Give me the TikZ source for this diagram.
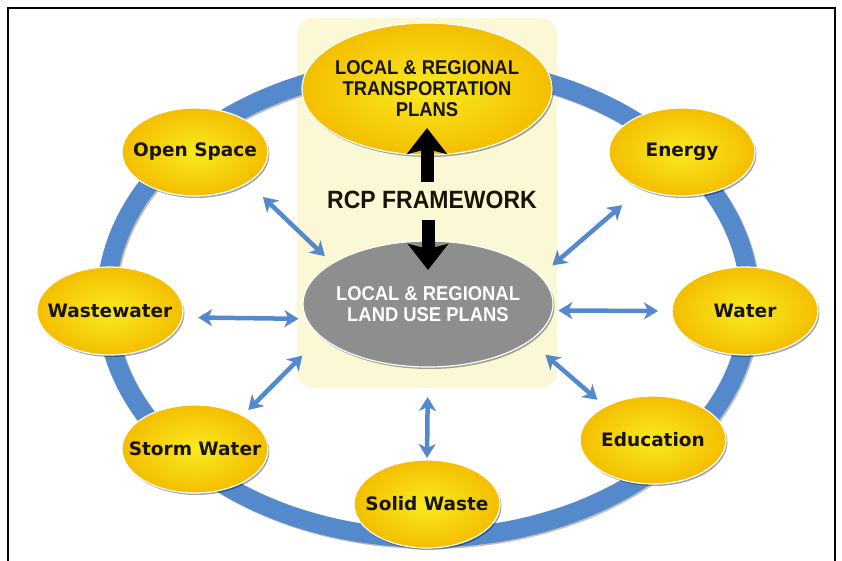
\documentclass[tikz,border=0pt]{standalone}
\usepackage{fontspec}
\setmainfont{Liberation Sans}
\newfontfamily\condfont[FakeStretch=0.92]{Liberation Sans}
\newfontfamily\bubblefont{DejaVu Sans}
\usetikzlibrary{shapes.geometric,arrows.meta,shadows}

\definecolor{ringblue}{RGB}{84,138,204}
\definecolor{cream}{RGB}{251,248,214}
\definecolor{goldrim}{RGB}{244,190,0}
\definecolor{goldmid}{RGB}{248,234,32}
\definecolor{hubgray}{RGB}{142,142,142}
\definecolor{ink}{RGB}{25,20,10}

\begin{document}
\begin{tikzpicture}[x=1pt, y=-1pt,
    gold/.style={inner color=goldmid, outer color=goldrim},
    shade/.style={drop shadow={shadow xshift=1.5pt, shadow yshift=-2pt, opacity=0.35, fill=black}},
    bubble/.style={ellipse, gold, shade, draw=white, line width=1.2pt,
      minimum width=146pt, minimum height=88pt, inner xsep=-25pt, inner ysep=0pt, outer sep=0pt,
      text=ink, font=\bubblefont\bfseries\fontsize{18.5}{20}\selectfont},
    hub/.style={ellipse, shade, draw=white, line width=1.2pt,
      minimum width=250pt, inner xsep=-30pt, inner ysep=0pt, outer sep=0pt,
      align=center, font=\condfont\bfseries\fontsize{20}{21}\selectfont},
    link/.style={{Stealth[width=17pt,length=14pt,inset=4pt]}-{Stealth[width=17pt,length=14pt,inset=4pt]},
      line width=4.5pt, ringblue},
    bigarrow/.style={-{Stealth[width=40pt,length=26pt,inset=5pt]}, line width=13pt, black}]

  \useasboundingbox (0,0) rectangle (842,560);
  \draw[line width=2.5pt] (8,562) -- (8,8) -- (835,8) -- (835,562);

  % backdrop and ring
  \fill[cream, rounded corners=16pt] (297,18) rectangle (557,388);
  \draw[black!25, line width=19pt] (429.5,303.5) ellipse [x radius=322, y radius=236];
  \draw[ringblue, line width=19pt] (428,302) ellipse [x radius=322, y radius=236];

  % centre
  \node[hub, gold, minimum height=132pt, text=ink] (trans) at (427,89) {LOCAL \& REGIONAL\\TRANSPORTATION\\PLANS};
  \node[hub, fill=hubgray, minimum height=126pt, text=white] (landuse) at (428,304) {LOCAL \& REGIONAL\\LAND USE PLANS};
  \node[inner sep=2pt, text=ink, font=\condfont\bfseries\fontsize{25}{26}\selectfont] (rcp) at (432,200) {RCP FRAMEWORK};

  % ring of services
  \node[bubble] (open) at (195,152) {Open Space};
  \node[bubble] (energy) at (682,152) {Energy};
  \node[bubble] (waste) at (110,311) {Wastewater};
  \node[bubble] (water) at (745,311) {Water};
  \node[bubble] (storm) at (195,449) {Storm Water};
  \node[bubble] (edu) at (653,440) {Education};
  \node[bubble] (solid) at (427,504) {Solid Waste};

  \draw[bigarrow, shorten <=7pt, shorten >=-27pt] (trans |- rcp.north) -- (trans.south);
  \draw[bigarrow, shorten <=9pt, shorten >=-29pt] (landuse |- rcp.south) -- (landuse.north);

  \draw[link, shorten <=21pt, shorten >=10.5pt] (open.-30) -- (landuse.157);
  \draw[link, shorten <=25.4pt, shorten >=16.3pt] (energy.-138) -- (landuse.14.3);
  \draw[link, shorten <=15.9pt, shorten >=8.1pt] (waste.-5.5) -- (landuse.-173.5);
  \draw[link, shorten <=14pt, shorten >=6pt] (water.180.8) -- (landuse.-3.7);
  \draw[link, shorten <=7.9pt, shorten >=26.6pt] (storm.35.3) -- (landuse.197.5);
  \draw[link, shorten <=10.5pt, shorten >=21.2pt] (edu.145.5) -- (landuse.-20.2);
  \draw[link, shorten <=30pt, shorten >=2pt] (landuse.south) -- (solid.north);
\end{tikzpicture}
\end{document}
